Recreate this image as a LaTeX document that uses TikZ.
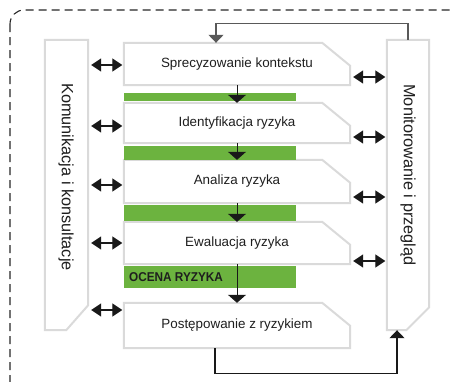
\documentclass[tikz,border=0pt]{standalone}
\usepackage{fontspec}
\setmainfont{Liberation Sans}
\usepackage{graphicx}
\usetikzlibrary{calc,arrows.meta}

\definecolor{bandgreen}{HTML}{6CB33F}
\definecolor{framegray}{HTML}{DADADA}
\definecolor{inkgray}{HTML}{1E1E1E}

\tikzset{
  stagetext/.style={font=\fontsize{13.4}{15}\selectfont, text=inkgray},
  sidetext/.style={font=\fontsize{16.3}{18}\selectfont, text=inkgray, rotate=-90},
  stage/.style={draw=none, minimum width=226pt, inner sep=0pt, stagetext},
  panel/.style={draw=none, inner sep=0pt},
  outline/.style={draw=framegray, line width=2pt, line join=miter},
  band/.style={fill=bandgreen, draw=none, inner sep=0pt, minimum width=172pt},
  flow/.style={draw=black!90, line width=1pt, -{Triangle[length=8pt,width=18pt]}},
  both/.style={draw=black!90, line width=1.3pt,
    {Triangle[length=10pt,width=13pt]}-{Triangle[length=10pt,width=13pt]},
    shorten <=3pt, shorten >=1.5pt},
  loopline/.style={line width=1.2pt, -{Triangle[length=8pt,width=15pt]}},
  border/.style={draw=black!85, line width=1.1pt, dash pattern=on 8pt off 5pt,
    rounded corners=14pt},
}

\begin{document}
\begin{tikzpicture}[x=1pt,y=-1pt]
\useasboundingbox (0,0) rectangle (454,381);
\clip (0,0) rectangle (454,381);

% outer dashed frame
\path[border] (10,10) rectangle (470,397);

% side panels
\node[panel, minimum width=43pt, minimum height=290pt] (kom) at (66.5,185) {};
\node[panel, minimum width=42pt, minimum height=290pt] (mon) at (408,185) {};
\draw[outline] (kom.north west) -- (kom.north east) -- ($(kom.south east)+(0,-25)$)
  -- ($(kom.south east)+(-22,0)$) -- (kom.south west) -- cycle;
\draw[outline] (mon.north west) -- (mon.north east) -- ($(mon.south east)+(0,-23)$)
  -- ($(mon.south east)+(-23,0)$) -- (mon.south west) -- cycle;
\node[sidetext] (komt) at (66,177) {Komunikacja i konsultacje};
\node[sidetext] (mont) at (408,175) {Monitorowanie i przegląd};

% process stages
\node[stage, minimum height=42pt] (s1) at (237,64) {Sprecyzowanie kontekstu};
\node[stage, minimum height=40pt] (s2) at (237,123) {Identyfikacja ryzyka};
\node[stage, minimum height=43pt] (s3) at (237,181.5) {Analiza ryzyka};
\node[stage, minimum height=42pt] (s4) at (237,243) {Ewaluacja ryzyka};
\node[stage, minimum height=45pt] (s5) at (237,325.5) {Postępowanie z ryzykiem};
\foreach \s in {s1,s2,s3,s4,s5}
  \draw[outline] (\s.south west) -- (\s.north west) -- ($(\s.north east)+(-28,0)$)
    -- ($(\s.north east)+(0,23)$) -- (\s.south east) -- cycle;

% green bands
\node[band, minimum height=8pt] (g1) at (210,97) {};
\node[band, minimum height=14pt] (g2) at (210,153) {};
\node[band, minimum height=16pt] (g3) at (210,213) {};
\node[band, minimum height=22pt] (g4) at (210,277) {};
\node[anchor=west, inner sep=0pt, font=\bfseries\fontsize{12.8}{14}\selectfont,
  text=inkgray] (ocena) at (129,277) {\scalebox{0.92}[1]{OCENA RYZYKA}};

% flow between stages
\draw[flow] (s1.south) -- (s2.north);
\draw[flow] (s2.south) -- (s3.north);
\draw[flow] (s3.south) -- (s4.north);
\draw[flow] (s4.south) -- (s5.north);

% communication links
\draw[both] (kom.east |- 0,65) -- (s1.west |- 0,65);
\draw[both] (kom.east |- 0,126) -- (s2.west |- 0,126);
\draw[both] (kom.east |- 0,185) -- (s3.west |- 0,185);
\draw[both] (kom.east |- 0,243) -- (s4.west |- 0,243);
\draw[both] (kom.east |- 0,310) -- (s5.west |- 0,310);

% monitoring links
\draw[both] (s1.east |- 0,77) -- (mon.west |- 0,77);
\draw[both] (s2.east |- 0,137) -- (mon.west |- 0,137);
\draw[both] (s3.east |- 0,197) -- (mon.west |- 0,197);
\draw[both] (s4.east |- 0,261) -- (mon.west |- 0,261);

% feedback loops
\draw[loopline, draw=black!65] (mon.north) -- ++(0,-16) -| ([xshift=-21pt]s1.north);
\draw[loopline, draw=black!90] ([xshift=-22pt]s5.south) -- ++(0,25) -| ([xshift=-11pt]mon.south);
\end{tikzpicture}
\end{document}
